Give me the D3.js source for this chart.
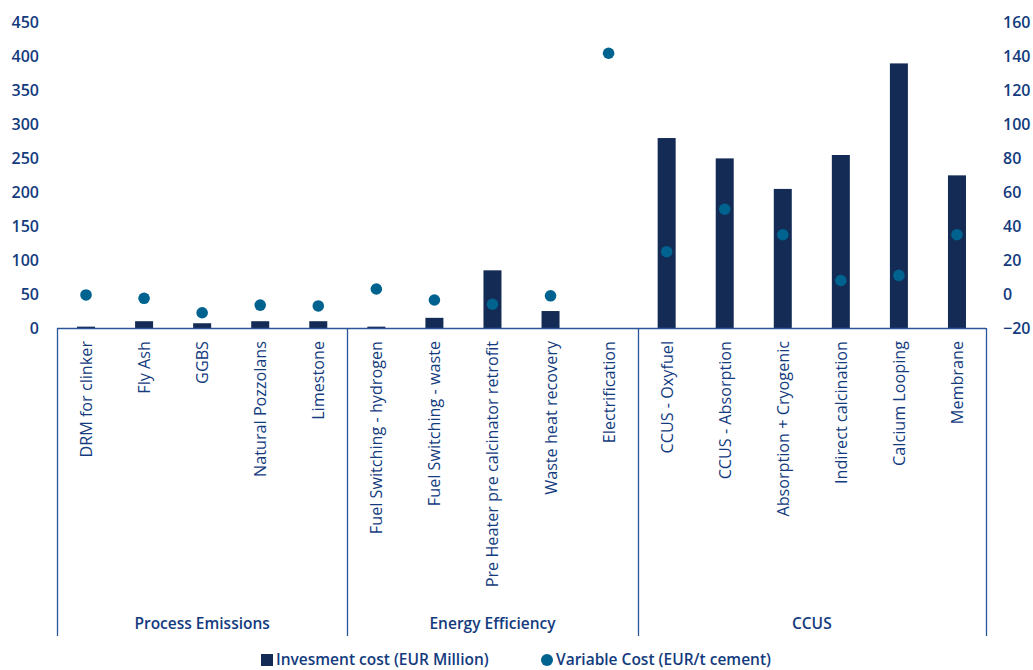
<!DOCTYPE html>
<html>
<head>
<meta charset="utf-8">
<script src="https://cdn.jsdelivr.net/npm/d3@7/dist/d3.min.js"></script>
<style>
  html, body { margin: 0; padding: 0; background: #ffffff; }
  svg { display: block; font-family: "Open Sans", sans-serif; }
</style>
</head>
<body>
<svg id="chart" width="1033" height="670"></svg>
<script>
// Decarbonisation levers for cement, grouped by emission source
const categories = [
  "DRM for clinker", "Fly Ash", "GGBS", "Natural Pozzolans", "Limestone",
  "Fuel Switching - hydrogen", "Fuel Switching - waste", "Pre Heater pre calcinator retrofit",
  "Waste heat recovery", "Electrification",
  "CCUS - Oxyfuel", "CCUS - Absorption", "Absorption + Cryogenic", "Indirect calcination",
  "Calcium Looping", "Membrane"
];
const groupNames = ["Process Emissions", "Energy Efficiency", "CCUS"];
const groupSizes = [5, 5, 6];

// Investment cost, EUR million (left axis)
const investment = [2, 10, 7, 10, 10, 2, 15, 85, 25, 0, 280, 250, 205, 255, 390, 225];
// Variable cost, EUR per tonne of cement (right axis)
const variableCost = [-0.5, -2.5, -11, -6.5, -7, 3, -3.5, -6, -1, 142, 25, 50, 35, 8, 11, 35];

const leftTicks = [0, 50, 100, 150, 200, 250, 300, 350, 400, 450];
const rightTicks = [-20, 0, 20, 40, 60, 80, 100, 120, 140, 160];

const legendLabels = ["Invesment cost (EUR Million)", "Variable Cost (EUR/t cement)"];

const barColor = "#142b55";
const dotColor = "#00628f";
const textColor = "#133b7e";
const lineColor = "#2a5598";

const svg = d3.select("#chart");

const plotLeft = 57, plotRight = 986, plotTop = 22.7, plotBottom = 328, groupBottom = 636;

const x = d3.scaleBand().domain(categories).range([plotLeft, plotRight]).padding(0);
const yL = d3.scaleLinear().domain([0, 450]).range([plotBottom, plotTop]);
const yR = d3.scaleLinear().domain([-20, 160]).range([plotBottom, plotTop]);

const barW = x.bandwidth() * 0.31;

// Left axis labels
const axL = svg.append("g")
  .attr("transform", `translate(${plotLeft},0)`)
  .call(d3.axisLeft(yL).tickValues(leftTicks).tickSize(0).tickPadding(18));
axL.select(".domain").remove();
axL.selectAll("text")
  .attr("fill", textColor).attr("font-size", 16).attr("font-weight", 600)
  .attr("font-family", "'Open Sans', sans-serif");

// Right axis labels
const axR = svg.append("g")
  .attr("transform", `translate(${plotRight},0)`)
  .call(d3.axisRight(yR).tickValues(rightTicks).tickSize(0).tickPadding(17));
axR.select(".domain").remove();
axR.selectAll("text")
  .attr("fill", textColor).attr("font-size", 16).attr("font-weight", 600)
  .attr("font-family", "'Open Sans', sans-serif");

// Investment bars
svg.append("g").selectAll("rect")
  .data(categories.map((c, i) => ({ c, v: investment[i] })))
  .join("rect")
  .attr("x", d => x(d.c) + x.bandwidth() / 2 - barW / 2)
  .attr("width", barW)
  .attr("y", d => yL(d.v))
  .attr("height", d => yL(0) - yL(d.v))
  .attr("fill", barColor);

// Category axis line and group separators
svg.append("line")
  .attr("x1", plotLeft).attr("x2", plotRight)
  .attr("y1", plotBottom + 0.5).attr("y2", plotBottom + 0.5)
  .attr("stroke", lineColor).attr("stroke-width", 1.3);

let start = 0;
const groupInfo = groupSizes.map((n, gi) => {
  const first = categories[start];
  const last = categories[start + n - 1];
  start += n;
  return { name: groupNames[gi], x0: x(first), x1: x(last) + x.bandwidth() };
});
const sepXs = [groupInfo[0].x0, ...groupInfo.map(g => g.x1)];
svg.append("g").selectAll("line")
  .data(sepXs)
  .join("line")
  .attr("x1", d => Math.round(d) + 0.5).attr("x2", d => Math.round(d) + 0.5)
  .attr("y1", plotBottom).attr("y2", groupBottom)
  .attr("stroke", lineColor).attr("stroke-width", 1.3);

// Rotated category labels
svg.append("g").selectAll("text")
  .data(categories)
  .join("text")
  .attr("transform", d => `translate(${x(d) + x.bandwidth() / 2 + 6},${plotBottom + 13}) rotate(-90)`)
  .attr("text-anchor", "end")
  .attr("fill", textColor)
  .attr("font-size", 16.2)
  .text(d => d);

// Group labels
svg.append("g").selectAll("text")
  .data(groupInfo)
  .join("text")
  .attr("x", d => (d.x0 + d.x1) / 2)
  .attr("y", 629)
  .attr("text-anchor", "middle")
  .attr("fill", textColor)
  .attr("font-size", 15.5)
  .attr("font-weight", 600)
  .text(d => d.name);

// Variable cost dots
svg.append("g").selectAll("circle")
  .data(categories.map((c, i) => ({ c, v: variableCost[i] })))
  .join("circle")
  .attr("cx", d => x(d.c) + x.bandwidth() / 2)
  .attr("cy", d => yR(d.v))
  .attr("r", 5.8)
  .attr("fill", dotColor);

// Legend
const lg = svg.append("g").attr("font-size", 15.5).attr("font-weight", 600).attr("fill", textColor);
lg.append("rect").attr("x", 261).attr("y", 654).attr("width", 12).attr("height", 12).attr("fill", barColor);
lg.append("text").attr("x", 276).attr("y", 665).text(legendLabels[0]);
lg.append("circle").attr("cx", 547).attr("cy", 660).attr("r", 6).attr("fill", dotColor);
lg.append("text").attr("x", 556).attr("y", 665).text(legendLabels[1]);
</script>
</body>
</html>
